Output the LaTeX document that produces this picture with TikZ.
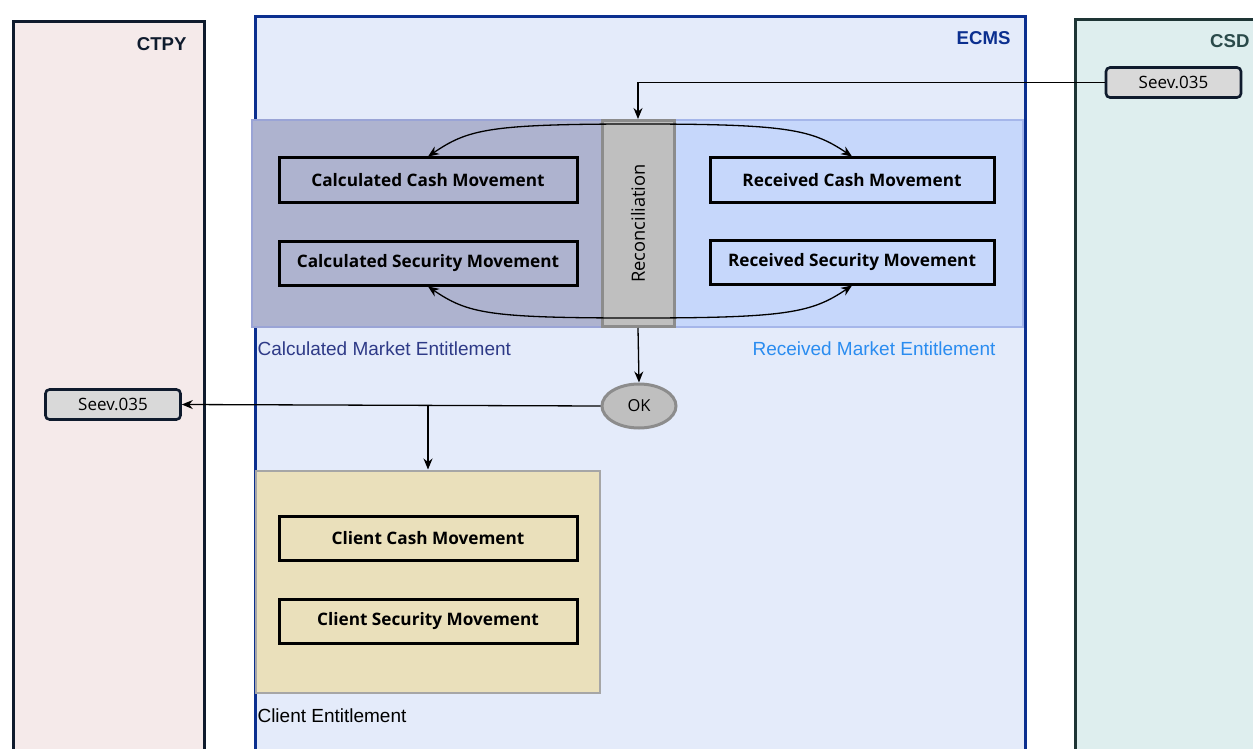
\documentclass[tikz,border=0pt]{standalone}
\usepackage{fontspec}
\setmainfont{Liberation Sans}
\newfontfamily\boxfont{Open Sans}
\usetikzlibrary{arrows.meta,calc,shapes.geometric}
\definecolor{ctpyfill}{HTML}{F5EAEA}
\definecolor{navyline}{HTML}{0F1B2D}
\definecolor{ecmsfill}{HTML}{E4EBFA}
\definecolor{ecmsline}{HTML}{0B2F8F}
\definecolor{csdfill}{HTML}{DEEEEE}
\definecolor{csdline}{HTML}{1E3535}
\definecolor{calcfill}{HTML}{AEB3CF}
\definecolor{calcline}{HTML}{9AA4D6}
\definecolor{recvfill}{HTML}{C6D7FB}
\definecolor{recvline}{HTML}{A5B6EA}
\definecolor{reconfill}{HTML}{BFBFBF}
\definecolor{reconline}{HTML}{8C8C8C}
\definecolor{clientfill}{HTML}{EAE0BB}
\definecolor{clientline}{HTML}{A6A6A6}
\definecolor{seevfill}{HTML}{D9D9D9}
\definecolor{calctext}{HTML}{2E3A87}
\definecolor{recvtext}{HTML}{2A8CF0}
\definecolor{csdtext}{HTML}{2A4A4A}
\begin{document}
\begin{tikzpicture}[x=1pt,y=-1pt,
  lane/.style={draw, line width=3pt},
  region/.style={draw, line width=2pt},
  movebox/.style={draw=black, line width=3pt, minimum width=298pt, minimum height=44pt, inner sep=0pt,
     font=\boxfont\bfseries\fontsize{17.2}{20}\selectfont},
  seevbox/.style={draw=navyline, fill=seevfill, line width=2.6pt, rounded corners=4pt, minimum width=135pt,
     minimum height=30pt, inner sep=0pt, font=\boxfont\fontsize{17}{20}\selectfont},
  lanelabel/.style={font=\bfseries\fontsize{18.6}{22}\selectfont, anchor=east},
  reglabel/.style={font=\fontsize{19}{22}\selectfont, anchor=west},
  arr/.style={-{Stealth[length=11pt,width=9pt]}, line width=1.3pt, black}
]
\useasboundingbox (0,0) rectangle (1253,749);
% lanes
\draw[lane, draw=navyline, fill=ctpyfill] (13,22) rectangle (204,770);
\draw[lane, draw=ecmsline, fill=ecmsfill] (255,17) rectangle (1025,770);
\draw[lane, draw=csdline, fill=csdfill] (1075,20) rectangle (1290,770);
\node[lanelabel, text=navyline] (ctpyl) at (190,44) {CTPY};
\node[lanelabel, text=ecmsline] (ecmsl) at (1014,38) {ECMS};
\node[lanelabel, text=csdtext] (csdl) at (1253,41) {CSD};
% regions
\node[region, draw=calcline, fill=calcfill, minimum width=350pt, minimum height=206pt, inner sep=0pt] (calc) at (426.5,223.5) {};
\node[region, draw=recvline, fill=recvfill, minimum width=348pt, minimum height=206pt, inner sep=0pt] (recv) at (849,223.5) {};
\node[draw=reconline, fill=reconfill, line width=3pt, minimum width=72pt, minimum height=206pt, inner sep=0pt] (recon) at (638,223.5) {};
\node[rotate=90, font=\boxfont\fontsize{18.3}{21}\selectfont] (recont) at (638,223.5) {Reconciliation};
\node[region, draw=clientline, fill=clientfill, minimum width=344pt, minimum height=222pt, inner sep=0pt] (ce) at (428,581.5) {};
% region labels
\node[reglabel, text=calctext] (calcl) at (254,349) {Calculated Market Entitlement};
\node[reglabel, text=recvtext] (recvl) at (749,349) {Received Market Entitlement};
\node[reglabel, text=black] (cel) at (254,716) {Client Entitlement};
% movement boxes
\node[movebox] (ccm) at (428,180) {Calculated Cash Movement};
\node[movebox] (csm) at (428,263) {Calculated Security Movement};
\node[movebox, minimum width=284pt] (rcm) at (852,180) {Received Cash Movement};
\node[movebox, minimum width=284pt] (rsm) at (852,262) {Received Security Movement};
\node[movebox] (clc) at (428,538) {Client Cash Movement};
\node[movebox] (cls) at (428,621) {Client Security Movement};
% seev boxes
\node[seevbox] (seevR) at (1173.5,82.5) {Seev.035};
\node[seevbox] (seevL) at (113,404.5) {Seev.035};
% OK
\node[draw=reconline, fill=reconfill, line width=3pt, ellipse, minimum width=74pt, minimum height=44pt, inner sep=0pt,
  font=\boxfont\fontsize{16.5}{19}\selectfont] (ok) at (639,406) {OK};
% connectors
\coordinate (tt) at (638,124);
\coordinate (bb) at (638,318);
\coordinate (br) at (428,405);
\draw[arr, {Stealth[length=11pt,width=9pt]}-{Stealth[length=11pt,width=9pt]}]
  (ccm.north) .. controls +(40,-27) and +(-150,0) .. (tt) .. controls +(150,0) and +(-40,-27) .. (rcm.north);
\draw[arr, {Stealth[length=11pt,width=9pt]}-{Stealth[length=11pt,width=9pt]}]
  (csm.south) .. controls +(40,27) and +(-150,0) .. (bb) .. controls +(150,0) and +(-40,27) .. (rsm.south);
\draw[arr] (seevR.west) -| (recon.north);
\draw[arr] (recon.south) -- (ok.north);
\draw[arr] (ok.west) -- (seevL.east);
\draw[arr] (br) -- (ce.north);
\end{tikzpicture}
\end{document}
